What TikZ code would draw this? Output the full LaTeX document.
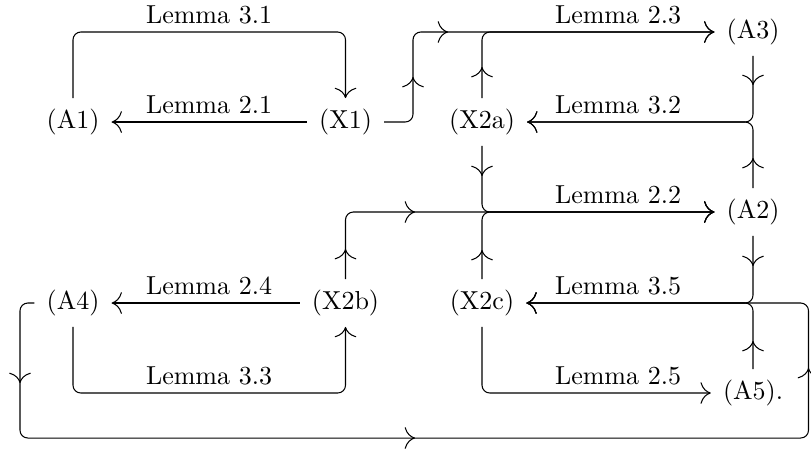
\documentclass[tikz,border=0pt]{standalone}
\usetikzlibrary{arrows.meta}
\begin{document}
\begin{tikzpicture}[x=0.3846pt,y=-0.3846pt,
  obj/.style={inner xsep=4.5pt, inner ysep=4pt},
  lbl/.style={anchor=south, inner sep=3pt},
  arr/.style={draw, line width=0.4pt, rounded corners=3pt, -{Computer Modern Rightarrow[scale=1.6]}},
  midtip/.pic={\draw[line width=0.4pt, -{Computer Modern Rightarrow[scale=1.6]}] (-1pt,0) -- (0,0);}]
\useasboundingbox (0,0) rectangle (811,448);
% objects
\node[obj] (A1)  at (73,122)  {(A1)};
\node[obj] (X1)  at (345.5,122) {(X1)};
\node[obj] (X2a) at (482,122) {(X2a)};
\node[obj] (A3)  at (753,32)  {(A3)};
\node[obj] (A2)  at (753,212) {(A2)};
\node[obj] (A4)  at (73,303)  {(A4)};
\node[obj] (X2b) at (345.5,303) {(X2b)};
\node[obj] (X2c) at (482,303) {(X2c)};
\node[obj] (A5)  at (753,393) {(A5).};
% helper coordinates
\coordinate (c1) at (413,32);
\coordinate (bl) at (20,438);
\coordinate (br) at (808.5,438);
% labels
\node[lbl] (l31) at (209,32)  {Lemma 3.1};
\node[lbl] (l21) at (209,122) {Lemma 2.1};
\node[lbl] (l23) at (618,32)  {Lemma 2.3};
\node[lbl] (l32) at (618,122) {Lemma 3.2};
\node[lbl] (l22) at (618,212) {Lemma 2.2};
\node[lbl] (l24) at (209,303) {Lemma 2.4};
\node[lbl] (l35) at (618,303) {Lemma 3.5};
\node[lbl] (l33) at (209,393) {Lemma 3.3};
\node[lbl] (l25) at (618,393) {Lemma 2.5};
% connectors
\draw[arr] (X1.west) -- (A1.east);
\draw[arr] (A1.north) |- (X1.north |- A3) -- (X1.north);
\draw[arr] (X1.east) -| (c1) -- (A3.west);
\draw[arr] (X2a.north) |- (A3.west);
\draw[arr] (A3.south) |- (X2a.east);
\draw[arr] (A2.north) |- (X2a.east);
\draw[arr] (X2a.south) |- (A2.west);
\draw[arr] (X2b.north) |- (A2.west);
\draw[arr] (X2c.north) |- (A2.west);
\draw[arr] (X2b.west) -- (A4.east);
\draw[arr] (A4.south) |- (X2b.south |- A5) -- (X2b.south);
\draw[arr] (A2.south) |- (X2c.east);
\draw[arr] (A5.north) |- (X2c.east);
\draw[arr] (A4.west) -| (bl) -- (br) |- (X2c.east);
\draw[arr] (X2c.south) |- (A5.west);
% mid-segment arrow tips
\pic[rotate=90]  at (413,77)  {midtip};
\pic[rotate=0]   at (448,32)  {midtip};
\pic[rotate=90]  at (482,67)  {midtip};
\pic[rotate=-90] at (753,85)  {midtip};
\pic[rotate=90]  at (753,158) {midtip};
\pic[rotate=-90] at (482,176) {midtip};
\pic[rotate=90]  at (345.5,249) {midtip};
\pic[rotate=0]   at (415,212) {midtip};
\pic[rotate=90]  at (482,250) {midtip};
\pic[rotate=-90] at (753,266) {midtip};
\pic[rotate=90]  at (753,341) {midtip};
\pic[rotate=-90] at (20,383)  {midtip};
\pic[rotate=0]   at (415,438) {midtip};
\pic[rotate=90]  at (808.5,368) {midtip};
\end{tikzpicture}
\end{document}
